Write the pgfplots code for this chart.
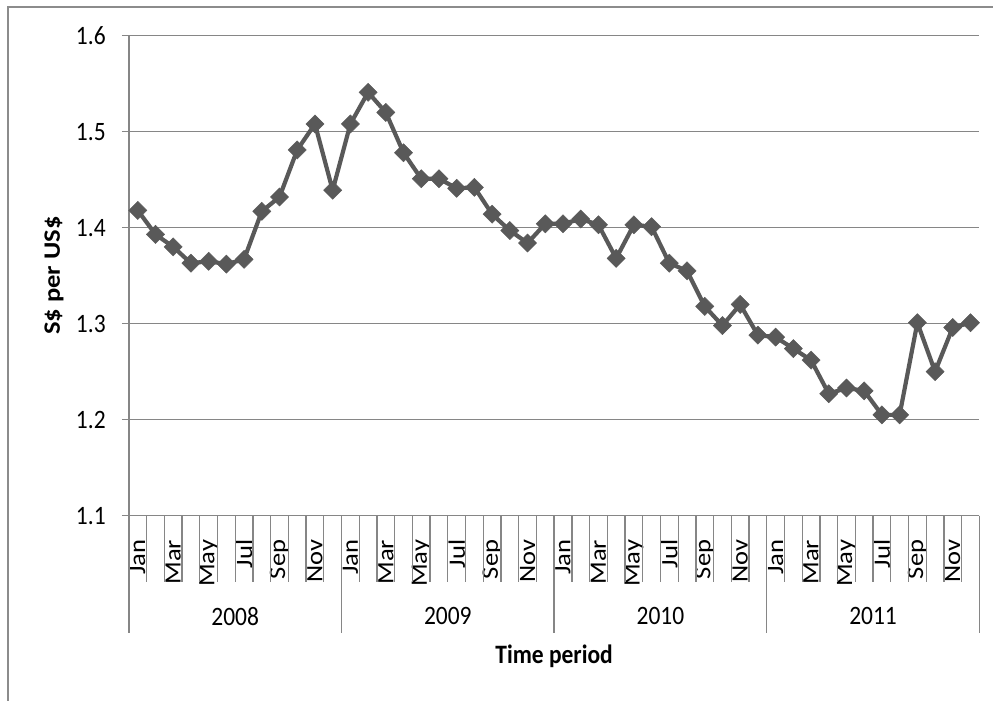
\documentclass[border=0pt]{standalone}
\usepackage{pgfplots}
\pgfplotsset{compat=1.18}
\usepackage{fontspec}
\setmainfont{Carlito}
\definecolor{linegray}{HTML}{595959}
\definecolor{gridgray}{HTML}{868686}
\definecolor{framegray}{HTML}{8C8C8C}
\newcommand{\bigfont}{\fontsize{23.5bp}{28bp}\selectfont}
\newcommand{\sx}[1]{\scalebox{1.13}[1]{#1}}
\newcommand{\sy}[1]{\scalebox{1}[1.13]{#1}}
\begin{document}
\begin{tikzpicture}
\begin{axis}[
  name=ax, scale only axis, width=851bp, height=480.3bp,
  xmin=0, xmax=48, ymin=1.1, ymax=1.6,
  clip=false,
  axis x line*=bottom, axis y line*=left,
  axis line style={draw=gridgray, line width=1.3bp, -},
  ytick={1.1,1.2,1.3,1.4,1.5,1.6},
  yticklabels={\sy{1.1},\sy{1.2},\sy{1.3},\sy{1.4},\sy{1.5},\sy{1.6}},
  ymajorgrids, grid style={draw=gridgray, line width=1.3bp},
  tick align=outside, major tick length=7bp,
  tick style={draw=gridgray, line width=1.3bp},
  xtick style={draw=none},
  xtick={0.5,2.5,4.5,6.5,8.5,10.5,12.5,14.5,16.5,18.5,20.5,22.5,24.5,26.5,28.5,30.5,32.5,34.5,36.5,38.5,40.5,42.5,44.5,46.5},
  xticklabels={\sx{Jan},\sx{Mar},\sx{May},\sx{Jul},\sx{Sep},\sx{Nov},\sx{Jan},\sx{Mar},\sx{May},\sx{Jul},\sx{Sep},\sx{Nov},\sx{Jan},\sx{Mar},\sx{May},\sx{Jul},\sx{Sep},\sx{Nov},\sx{Jan},\sx{Mar},\sx{May},\sx{Jul},\sx{Sep},\sx{Nov}},
  xticklabel style={font=\bigfont, inner sep=0pt, yshift=-17bp, rotate=90, anchor=east},
  yticklabel style={font=\bigfont, inner sep=0pt, anchor=east},
  yticklabel shift=16bp,
]
\addplot[linegray, line width=4.2bp, mark=square*, mark size=6.4bp,
  mark options={rotate=45, solid, line width=0.5bp, fill=linegray, draw=linegray}]
coordinates {
(0.5,1.418) (1.5,1.393) (2.5,1.380) (3.5,1.363) (4.5,1.365) (5.5,1.362)
(6.5,1.367) (7.5,1.417) (8.5,1.432) (9.5,1.481) (10.5,1.508) (11.5,1.439)
(12.5,1.508) (13.5,1.541) (14.5,1.520) (15.5,1.478) (16.5,1.451) (17.5,1.451)
(18.5,1.441) (19.5,1.442) (20.5,1.414) (21.5,1.397) (22.5,1.384) (23.5,1.404)
(24.5,1.404) (25.5,1.409) (26.5,1.403) (27.5,1.368) (28.5,1.403) (29.5,1.401)
(30.5,1.363) (31.5,1.355) (32.5,1.318) (33.5,1.298) (34.5,1.320) (35.5,1.288)
(36.5,1.286) (37.5,1.274) (38.5,1.262) (39.5,1.227) (40.5,1.233) (41.5,1.230)
(42.5,1.205) (43.5,1.205) (44.5,1.301) (45.5,1.250) (46.5,1.296) (47.5,1.301)
};
\pgfplotsinvokeforeach{0,...,48}{\draw[gridgray, line width=1.3bp] (axis cs:#1,1.1) -- ([yshift=-66bp]axis cs:#1,1.1);}
\pgfplotsinvokeforeach{0,12,24,36,48}{\draw[gridgray, line width=1.3bp] (axis cs:#1,1.1) -- ([yshift=-117bp]axis cs:#1,1.1);}
\node[font=\bigfont] at ([yshift=-100.7bp]axis cs:6,1.1) {\sy{2008}};
\node[font=\bigfont] at ([yshift=-100.7bp]axis cs:18,1.1) {\sy{2009}};
\node[font=\bigfont] at ([yshift=-100.7bp]axis cs:30,1.1) {\sy{2010}};
\node[font=\bigfont] at ([yshift=-100.7bp]axis cs:42,1.1) {\sy{2011}};
\node[font=\bfseries\bigfont] at ([yshift=-141bp]rel axis cs:0.5,0) {\sy{Time period}};
\node[font=\bfseries\bigfont, rotate=90] at ([xshift=-75bp]rel axis cs:0,0.5) {\sx{S\$ per US\$}};
\end{axis}
\draw[framegray, line width=1.3bp] ([xshift=-121bp,yshift=-185bp]ax.south west) -- ([xshift=-121bp,yshift=28.7bp]ax.north west) -- ([xshift=14bp,yshift=28.7bp]ax.north east);
\path[use as bounding box] ([xshift=-129bp,yshift=-185bp]ax.south west) rectangle ([xshift=14bp,yshift=35.7bp]ax.north east);
\end{tikzpicture}
\end{document}
